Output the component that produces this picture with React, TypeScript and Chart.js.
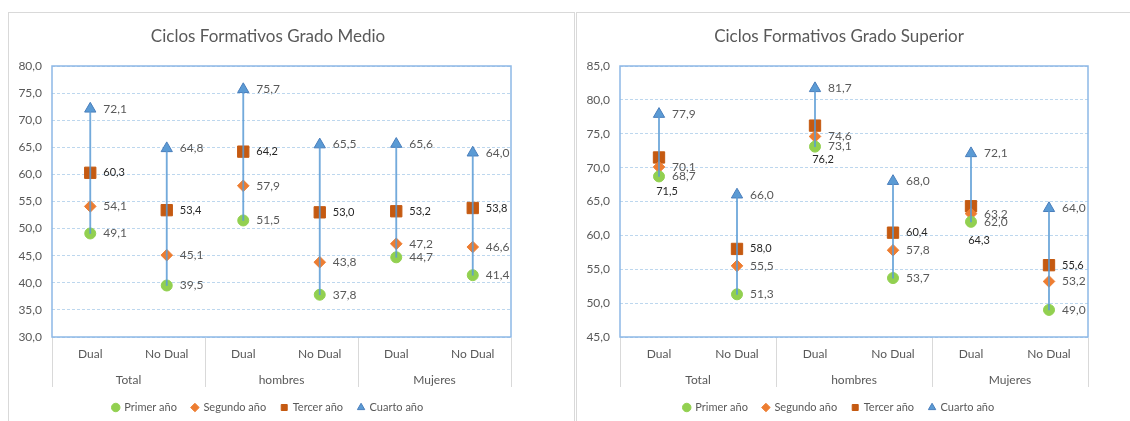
import React, { useEffect, useRef } from "react";
import { Chart, registerables } from "chart.js";

Chart.register(...registerables);

// ---------- DATA ----------
const categories = ["Dual", "No Dual", "Dual", "No Dual", "Dual", "No Dual"];
const groups = ["Total", "hombres", "Mujeres"];
const seriesNames = ["Primer año", "Segundo año", "Tercer año", "Cuarto año"];

// Ciclos Formativos Grado Medio
const medioPrimer = [49.1, 39.5, 51.5, 37.8, 44.7, 41.4];
const medioSegundo = [54.1, 45.1, 57.9, 43.8, 47.2, 46.6];
const medioTercer = [60.3, 53.4, 64.2, 53.0, 53.2, 53.8];
const medioCuarto = [72.1, 64.8, 75.7, 65.5, 65.6, 64.0];
const medioYTicks = [30, 35, 40, 45, 50, 55, 60, 65, 70, 75, 80];

// Ciclos Formativos Grado Superior
const superiorPrimer = [68.7, 51.3, 73.1, 53.7, 62.0, 49.0];
const superiorSegundo = [70.1, 55.5, 74.6, 57.8, 63.2, 53.2];
const superiorTercer = [71.5, 58.0, 76.2, 60.4, 64.3, 55.6];
const superiorCuarto = [77.9, 66.0, 81.7, 68.0, 72.1, 64.0];
const superiorYTicks = [45, 50, 55, 60, 65, 70, 75, 80, 85];

// ---------- STYLE ----------
const FONT = "Lato, 'Open Sans', sans-serif";
const TEXT = "#595959";
const markerColors = ["#92D050", "#ED7D31", "#C55A11", "#5B9BD5"];
const markerBorders = ["#92D050", "#ED7D31", "#C55A11", "#4A7EBB"];
const markerStyles = ["circle", "rectRot", "rect", "triangle"];
const markerRadii = [5.5, 5.8, 8, 6.5];

const fmt = (v: number) => v.toFixed(1).replace(".", ",");

type LabelSpec = { dx: number; dy: number; align: CanvasTextAlign; color: string; font: string };
const baseLabel: LabelSpec = { dx: 13, dy: 0, align: "left", color: TEXT, font: `12px ${FONT}` };
const tercerLabel: LabelSpec = { dx: 13, dy: 0, align: "left", color: "#262626", font: `11px ${FONT}` };

const frameP = {
  id: "plotFrame",
  beforeDatasetsDraw(chart: any) {
    const { ctx, chartArea: a } = chart;
    ctx.save();
    ctx.strokeStyle = "#8DB8E6";
    ctx.lineWidth = 1.5;
    ctx.strokeRect(a.left, a.top, a.right - a.left, a.bottom - a.top);
    ctx.restore();
  },
};

const groupAxisP = {
  id: "groupAxis",
  afterDraw(chart: any) {
    const { ctx, chartArea: a } = chart;
    const xs = chart.scales.x;
    const colW = xs.getPixelForValue(1) - xs.getPixelForValue(0);
    ctx.save();
    ctx.strokeStyle = "#D9D9D9";
    ctx.lineWidth = 1;
    for (let g = 0; g <= groups.length; g++) {
      const x = Math.round(xs.getPixelForValue(g * 2) - colW / 2) + 0.5;
      ctx.beginPath();
      ctx.moveTo(x, a.bottom + 1);
      ctx.lineTo(x, a.bottom + 50);
      ctx.stroke();
    }
    ctx.fillStyle = TEXT;
    ctx.font = `12px ${FONT}`;
    ctx.textAlign = "center";
    ctx.textBaseline = "middle";
    groups.forEach((g, i) => {
      const cx = (xs.getPixelForValue(i * 2) + xs.getPixelForValue(i * 2 + 1)) / 2;
      ctx.fillText(g, cx, a.bottom + 43);
    });
    ctx.restore();
  },
};

const valueLabelsP = {
  id: "valueLabels",
  afterDatasetsDraw(chart: any) {
    const { ctx } = chart;
    const specs = chart.options.plugins.valueLabels.specs as ((i: number) => LabelSpec)[];
    ctx.save();
    ctx.textBaseline = "middle";
    specs.forEach((specFn, di) => {
      const meta = chart.getDatasetMeta(di);
      const data = chart.data.datasets[di].data as number[];
      meta.data.forEach((el: any, i: number) => {
        const s = specFn(i);
        ctx.font = s.font;
        ctx.fillStyle = s.color;
        ctx.textAlign = s.align;
        ctx.fillText(fmt(data[i]), el.x + s.dx, el.y + s.dy);
      });
    });
    ctx.restore();
  },
};

function makeConfig(
  title: string,
  series: number[][],
  yTicks: number[],
  yWidth: number,
  rightWidth: number,
  specs: ((i: number) => LabelSpec)[]
): any {
  const lows = categories.map((_, i) => Math.min(...series.map((s) => s[i])));
  const highs = categories.map((_, i) => Math.max(...series.map((s) => s[i])));
  const pointSets = series.map((s, k) => ({
    type: "line",
    label: seriesNames[k],
    data: s,
    showLine: false,
    pointStyle: markerStyles[k],
    pointRadius: markerRadii[k],
    pointHoverRadius: markerRadii[k],
    backgroundColor: markerColors[k],
    borderColor: markerBorders[k],
    pointBackgroundColor: markerColors[k],
    pointBorderColor: markerBorders[k],
    borderWidth: 1,
    order: k,
  }));
  return {
    type: "line",
    data: {
      labels: categories,
      datasets: [
        ...pointSets,
        {
          type: "bar",
          label: "",
          data: lows.map((l, i) => [l, highs[i]]),
          backgroundColor: "rgba(91,155,213,0.85)",
          borderWidth: 0,
          barThickness: 1.2,
          order: -1,
        },
      ],
    },
    options: {
      animation: false,
      responsive: false,
      devicePixelRatio: 1,
      events: [],
      layout: { padding: 0 },
      scales: {
        x: {
          type: "category",
          offset: true,
          grid: { display: false, drawTicks: false },
          border: { display: false },
          ticks: { font: { family: FONT, size: 12 }, color: TEXT, padding: 10, autoSkip: false, maxRotation: 0 },
          afterFit: (s: any) => {
            s.height = 50;
          },
        },
        y: {
          position: "left",
          min: yTicks[0],
          max: yTicks[yTicks.length - 1],
          afterBuildTicks: (s: any) => {
            s.ticks = yTicks.map((v) => ({ value: v }));
          },
          grid: { color: "#BDD7EE", lineWidth: 1, drawTicks: false },
          border: { display: false, dash: [3, 2] },
          ticks: { font: { family: FONT, size: 12 }, color: TEXT, padding: 10, callback: (v: number) => fmt(v) },
          afterFit: (s: any) => {
            s.width = yWidth;
          },
        },
        yR: {
          position: "right",
          display: true,
          grid: { display: false, drawTicks: false },
          border: { display: false },
          ticks: { display: false },
          afterFit: (s: any) => {
            s.width = rightWidth;
          },
        },
      },
      plugins: {
        tooltip: { enabled: false },
        title: {
          display: true,
          text: title,
          color: TEXT,
          font: { family: FONT, size: 17, weight: "normal" },
          padding: { top: 13, bottom: 19.6 },
        },
        legend: {
          position: "bottom",
          labels: {
            usePointStyle: true,
            boxWidth: 6,
            boxHeight: 6,
            padding: 15,
            color: TEXT,
            font: { family: FONT, size: 11 },
            filter: (item: any) => item.text !== "",
          },
        },
        valueLabels: { specs },
      },
    },
    plugins: [frameP, groupAxisP, valueLabelsP],
  };
}

function Panel(props: { cfg: any; left: number; top: number; width: number; height: number }) {
  const ref = useRef<HTMLCanvasElement>(null);
  useEffect(() => {
    const chart = new Chart(ref.current as HTMLCanvasElement, props.cfg);
    return () => chart.destroy();
  }, []);
  return (
    <canvas
      ref={ref}
      width={props.width}
      height={props.height}
      style={{ position: "absolute", left: props.left, top: props.top, width: props.width, height: props.height }}
    />
  );
}

const std = (_i: number) => baseLabel;
const ter = (_i: number) => tercerLabel;
const terSup = (i: number): LabelSpec =>
  i % 2 === 0 ? { ...tercerLabel, dx: 8, dy: 34, align: "center" } : tercerLabel;

export default function App() {
  const medioCfg = makeConfig(
    "Ciclos Formativos Grado Medio",
    [medioPrimer, medioSegundo, medioTercer, medioCuarto],
    medioYTicks,
    43,
    16,
    [std, std, ter, std]
  );
  const superiorCfg = makeConfig(
    "Ciclos Formativos Grado Superior",
    [superiorPrimer, superiorSegundo, superiorTercer, superiorCuarto],
    superiorYTicks,
    43,
    13,
    [std, std, terSup, std]
  );
  return (
    <div style={{ position: "absolute", left: 0, top: 0, width: 1130, height: 421, overflow: "hidden", background: "#fff" }}>
      <div style={{ position: "absolute", left: 8, top: 12, width: 565, height: 430, border: "1px solid #D9D9D9" }} />
      <div style={{ position: "absolute", left: 576, top: 12, width: 600, height: 430, border: "1px solid #D9D9D9" }} />
      <Panel cfg={medioCfg} left={9} top={13} width={518} height={410} />
      <Panel cfg={superiorCfg} left={577} top={13} width={524} height={410} />
    </div>
  );
}
